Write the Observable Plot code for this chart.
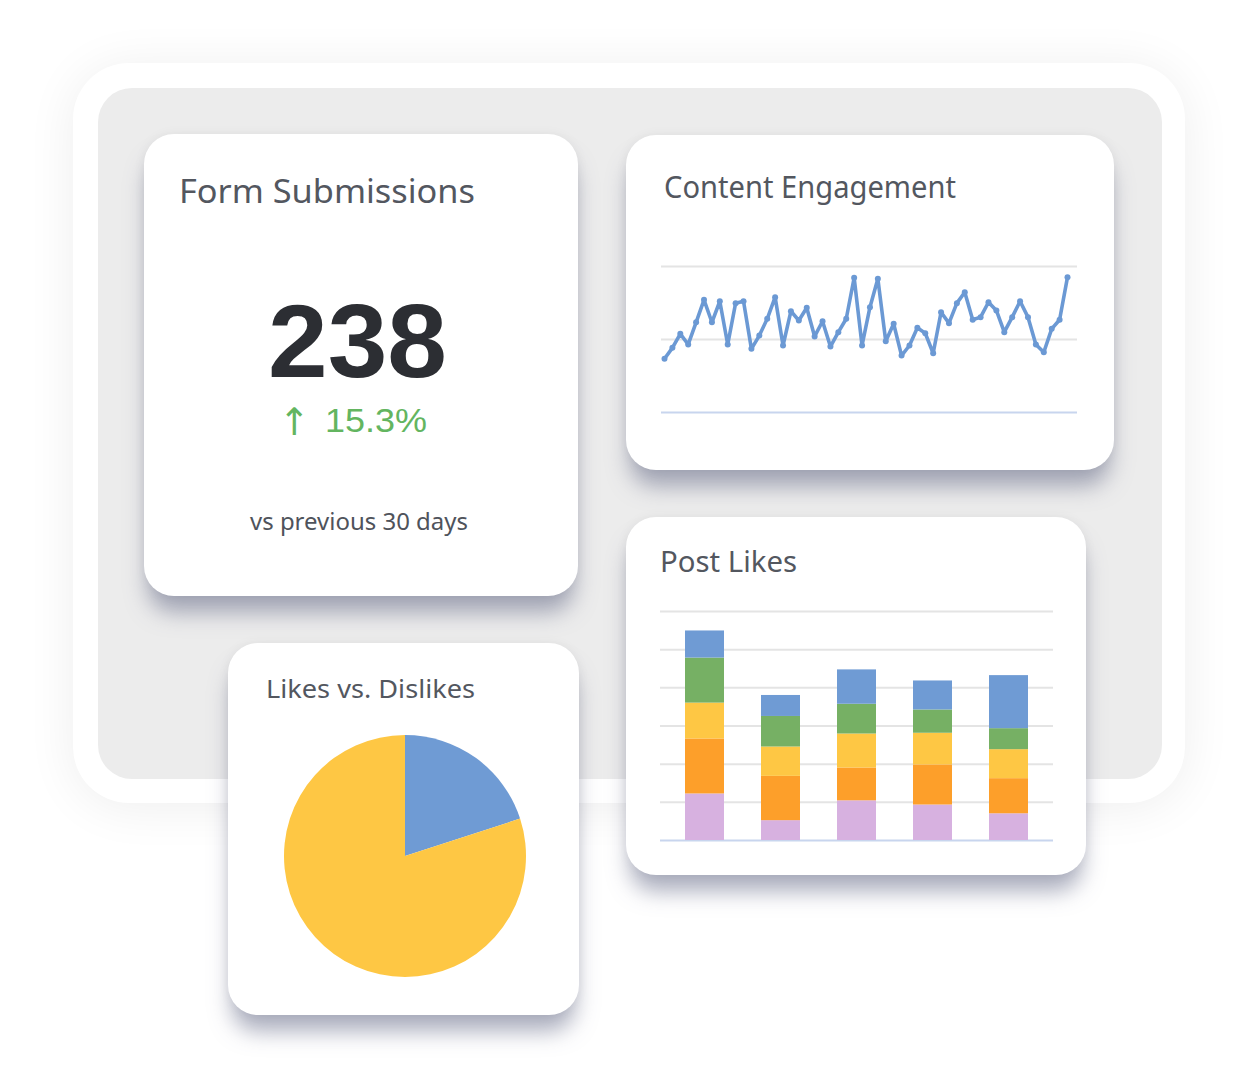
<!DOCTYPE html>
<html><head><meta charset="utf-8">
<script src="https://cdn.jsdelivr.net/npm/d3@7"></script>
<script src="https://cdn.jsdelivr.net/npm/@observablehq/plot@0.6"></script>
<style>
html,body{margin:0;padding:0;background:#fff;width:1260px;height:1080px;overflow:hidden;font-family:"Noto Sans",sans-serif}
#stage{position:relative;width:1260px;height:1080px}
.abs{position:absolute}
.outer{left:73px;top:63px;width:1112px;height:740px;border-radius:56px;background:#fff;box-shadow:0 4px 50px rgba(0,0,0,0.07)}
.inner{left:98px;top:88px;width:1064px;height:691px;border-radius:34px;background:#ececec}
.card{background:#fff;border-radius:30px;box-shadow:0 20px 22px -4px rgba(92,97,128,0.52),0 0 12px rgba(0,0,0,0.05)}
.chart{position:absolute}
.chart svg{display:block;background:transparent}
#overlay{position:absolute;left:0;top:0;pointer-events:none}
</style></head>
<body><div id="stage"></div>
<script>
// ---------- data ----------
const formSubmissions = "238";
const formChange = "15.3%";
const formPeriod = "vs previous 30 days";

const engagement = [36.8,44.3,53.9,46.6,61.8,77.2,61.8,76.2,46.6,74.9,76.2,43.6,52.7,64.2,79.0,45.9,69.4,63.0,71.7,52.1,62.5,45.2,55.0,64.2,92.3,45.9,72.1,91.6,48.8,60.8,39.0,45.9,58.0,54.3,40.6,68.7,61.2,74.9,82.4,63.5,65.3,75.5,69.9,55.0,65.3,76.2,65.3,46.6,41.3,57.3,63.5,92.7];
const engagementGrid = [50, 100];

const postGroups = ["P1","P2","P3","P4","P5"];
const postSeries = ["Series 1","Series 2","Series 3","Series 4","Series 5"]; // bottom -> top
const postS1 = [12.2, 5.2, 10.4, 9.3, 7.0];
const postS2 = [14.4, 11.6, 8.6, 10.5, 9.2];
const postS3 = [9.4, 7.7, 8.9, 8.3, 7.6];
const postS4 = [11.8, 8.0, 7.8, 6.1, 5.5];
const postS5 = [7.1, 5.5, 9.0, 7.6, 13.9];
const postTicks = [10, 20, 30, 40, 50, 60];
const postColors = ["#d7b1e0","#fd9f2a","#fec744","#76b064","#6f9bd4"];

const pieLabels = ["Dislikes","Likes"];
const pieValues = [20, 80];
const pieColors = ["#6f9bd4","#fec744"];

// ---------- layout ----------
const stage = document.getElementById("stage");
function box(cls, l, t, w, h){const d=document.createElement("div");d.className="abs "+cls;Object.assign(d.style,{left:l+"px",top:t+"px",width:w+"px",height:h+"px"});stage.appendChild(d);return d;}
box("outer",73,63,1112,740);
box("inner",98,88,1064,691);
box("card",144,134,434,462);
box("card",626,135,488,335);
box("card",626,517,460,358);
box("card",228,643,351,372);

function place(svg,l,t){const d=document.createElement("div");d.className="chart";d.style.left=l+"px";d.style.top=t+"px";d.appendChild(svg);stage.appendChild(d);}

// line chart
place(Plot.plot({
  width:450,height:180,marginTop:16,marginBottom:18,marginLeft:21,marginRight:13,
  style:{background:"transparent"},
  x:{axis:null,insetLeft:3,insetRight:10},
  y:{axis:null,domain:[0,100]},
  marks:[
    Plot.ruleY(engagementGrid,{stroke:"#e4e4e4",strokeWidth:2}),
    Plot.ruleY([0],{stroke:"#c8d5ee",strokeWidth:2}),
    Plot.line(engagement,{x:(d,i)=>i,y:d=>d,stroke:"#6b99d4",strokeWidth:3.6,strokeLinejoin:"round"}),
    Plot.dot(engagement,{x:(d,i)=>i,y:d=>d,fill:"#6b99d4",r:3})
  ]
}),640,250);

// stacked bars
const postRows = [];
[postS1,postS2,postS3,postS4,postS5].forEach((arr,si)=>arr.forEach((v,gi)=>postRows.push({group:postGroups[gi],series:postSeries[si],value:v})));
place(Plot.plot({
  width:430,height:260,marginTop:16,marginBottom:15,marginLeft:20,marginRight:17,
  style:{background:"transparent"},
  x:{axis:null,domain:postGroups,paddingInner:0.489,paddingOuter:0.306},
  y:{axis:null,domain:[0,60]},
  color:{domain:postSeries,range:postColors},
  marks:[
    Plot.ruleY(postTicks,{stroke:"#e4e4e4",strokeWidth:2}),
    Plot.ruleY([0],{stroke:"#c8d5ee",strokeWidth:2}),
    Plot.barY(postRows,{x:"group",y:"value",fill:"series"})
  ]
}),640,595);

// pie
const pieColor = d3.scaleOrdinal(pieLabels, pieColors);
const pieRows = pieLabels.map((k,i)=>({label:k,value:pieValues[i]}));
place(Plot.plot({
  width:270,height:262,margin:0,
  style:{background:"transparent"},
  x:{axis:null},y:{axis:null},
  marks:[
    (index, scales, values, dims) => {
      const g = d3.create("svg:g");
      const cx = dims.width/2, cy = dims.height/2, r = Math.min(dims.width,dims.height)/2 - 10;
      const arcs = d3.pie().sort(null).value(d=>d.value)(pieRows);
      const arc = d3.arc().innerRadius(0).outerRadius(r);
      g.attr("transform",`translate(${cx},${cy})`)
       .selectAll("path").data(arcs).join("path")
       .attr("d",arc).attr("fill",d=>pieColor(d.data.label));
      return g.node();
    }
  ]
}),270,725);

// ---------- text ----------
const texts = [
  {t:"Form Submissions",x:179,y:203,size:33.5,w:296,fill:"#53575f"},
  {t:formSubmissions,x:268,y:377,size:104,w:179,fill:"#2c2e33",weight:700,family:"'Liberation Sans', sans-serif"},
  {t:"↑",x:279,y:435,size:38,w:31,fill:"#63b560",family:"'DejaVu Sans', sans-serif"},
  {t:formChange,x:325,y:432,size:34,w:102,fill:"#63b560",family:"'Liberation Sans', sans-serif"},
  {t:formPeriod,x:250,y:530,size:23.4,w:218,fill:"#4f535b"},
  {t:"Content Engagement",x:664,y:198,size:30.4,w:292,fill:"#53575f"},
  {t:"Post Likes",x:660,y:572,size:29.4,w:137,fill:"#53575f"},
  {t:"Likes vs. Dislikes",x:266,y:698,size:26,w:209,fill:"#53575f"}
];
const ov = d3.select(stage).append("svg").attr("id","overlay").attr("width",1260).attr("height",1080);
ov.selectAll("text").data(texts).join("text")
  .attr("x",d=>d.x).attr("y",d=>d.y)
  .attr("font-family",d=>d.family||"'Noto Sans', sans-serif")
  .attr("font-size",d=>d.size).attr("font-weight",d=>d.weight||400)
  .attr("fill",d=>d.fill)
  .attr("textLength",d=>d.w).attr("lengthAdjust","spacingAndGlyphs")
  .text(d=>d.t);
</script></body></html>
